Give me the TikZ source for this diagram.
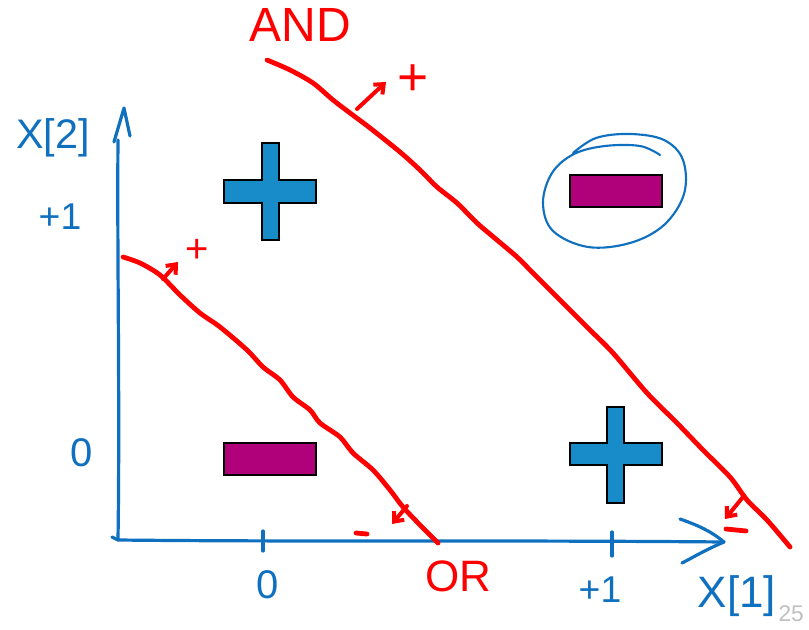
\documentclass[tikz,border=0pt]{standalone}
\usepackage{fontspec}
\setmainfont{Liberation Sans}
\usetikzlibrary{arrows.meta}
\definecolor{inkblue}{RGB}{16,112,192}
\definecolor{inkred}{RGB}{255,0,0}
\definecolor{plusfill}{RGB}{24,140,200}
\definecolor{minusfill}{RGB}{176,0,122}
\tikzset{
  redink/.style={draw=inkred,line width=3.6pt,line cap=round,line join=round},
  blueink/.style={draw=inkblue,line width=2.4pt,line cap=round,line join=round},
  thinblue/.style={draw=inkblue,line width=1.6pt,line cap=round},
  minusbox/.style={draw=black,line width=1.5pt,fill=minusfill},
  plusshape/.style={draw=black,line width=1.5pt,fill=plusfill,line join=miter},
  bluetxt/.style={text=inkblue,inner sep=0pt},
  redtxt/.style={text=inkred,inner sep=0pt},
  smallarrow/.style={redink,line width=3pt,-{Straight Barb[length=6pt,width=10pt,line width=3pt]}},
}
\begin{document}
\begin{tikzpicture}[x=0.75pt,y=-0.75pt]
\useasboundingbox (0,0) rectangle (809,630);

% axes
\coordinate (orig) at (118,540);
\coordinate (ytop) at (124,108);
\coordinate (xtip) at (724,542);
\draw[blueink] (orig) .. controls (120,400) and (117,250) .. (118,140);
\draw[blueink] (114,142) -- (ytop) -- (130,136);
\draw[blueink] (orig) .. controls (300,542) and (500,540) .. (xtip);
\draw[blueink] (680,519) .. controls (700,526) and (712,532) .. (xtip);
\draw[blueink] (xtip) .. controls (705,550) and (692,558) .. (682,563);
\draw[blueink] (112,537) -- (orig);
% ticks
\coordinate (t0a) at (263,531); \coordinate (t0b) at (263,551);
\coordinate (t1a) at (612,532); \coordinate (t1b) at (612,556);
\draw[blueink] (t0a) -- (t0b);
\draw[blueink] (t1a) -- (t1b);

% axis labels
\node[bluetxt,font=\fontsize{31}{31}\selectfont] (x2lab) at (53,138) {X[2]};
\node[bluetxt,font=\fontsize{28}{28}\selectfont] (yp1) at (60,217) {+1};
\node[bluetxt,font=\fontsize{30}{30}\selectfont] (y0) at (82,453) {0};
\node[bluetxt,font=\fontsize{30}{30}\selectfont] (x0) at (268,585) {0};
\node[bluetxt,font=\fontsize{28}{28}\selectfont] (xp1) at (600,590) {+1};
\node[bluetxt,font=\fontsize{33}{33}\selectfont] (x1lab) at (737,596) {X[1]};

% AND line
\draw[redink] plot[smooth,tension=0.5] coordinates {(267,60) (290,70) (313,83) (333,100) (350,113) (370,128) (400,152) (420,170) (437,187) (457,203) (477,223) (497,240) (517,257) (533,273) (553,293) (573,313) (590,330) (613,353) (647,393) (677,423) (703,450) (730,477) (747,500) (767,520) (790,547)};
\node[redtxt,font=\fontsize{36}{36}\selectfont] (andlab) at (300,25) {AND};
\coordinate (ap1) at (357,109); \coordinate (ap2) at (386,82);
\draw[smallarrow] (ap1) -- (ap2);
\node[redtxt,font=\fontsize{40}{40}\selectfont] (andplus) at (413,80) {+};
\coordinate (am1) at (743,497); \coordinate (am2) at (725,519);
\draw[smallarrow] (am1) -- (am2);
\coordinate (amd1) at (726,529); \coordinate (amd2) at (746,531);
\draw[redink] (amd1) -- (amd2);

% OR line
\draw[redink] plot[smooth,tension=0.5] coordinates {(123,257) (140,263) (160,275) (180,295) (200,313) (220,327) (247,350) (263,367) (280,380) (293,397) (310,410) (320,423) (340,437) (353,453) (373,470) (390,490) (403,507) (420,525) (438,543)};
\node[redtxt,font=\fontsize{33}{33}\selectfont] (orlab) at (458,576) {OR};
\coordinate (op1) at (163,279); \coordinate (op2) at (178,262);
\draw[smallarrow] (op1) -- (op2);
\node[redtxt,font=\fontsize{30}{30}\selectfont] (orplus) at (197,251) {+};
\coordinate (om1) at (407,506); \coordinate (om2) at (392,524);
\draw[smallarrow] (om1) -- (om2);
\coordinate (omd1) at (356,533); \coordinate (omd2) at (367,534);
\draw[redink] (omd1) -- (omd2);

% minus boxes
\node[minusbox,minimum width=69pt,minimum height=24pt,inner sep=0pt] (mTR) at (616,191) {};
\node[minusbox,minimum width=69pt,minimum height=24pt,inner sep=0pt] (mBL) at (270,459) {};

% plus shapes
\draw[plusshape] (262,143) -- (279,143) -- (279,180) -- (316,180) -- (316,203) -- (279,203) -- (279,240) -- (262,240) -- (262,203) -- (224,203) -- (224,180) -- (262,180) -- cycle;
\node[inner sep=0pt] (pTL) at (270,191) {};
\draw[plusshape] (607,407) -- (624,407) -- (624,443) -- (662,443) -- (662,465) -- (624,465) -- (624,503) -- (607,503) -- (607,465) -- (570,465) -- (570,443) -- (607,443) -- cycle;
\node[inner sep=0pt] (pBR) at (616,454) {};

% circle round the top-right minus
\draw[thinblue] plot[smooth,tension=0.6] coordinates {(660,155) (640,146) (605,146) (574,154) (552,173) (543,203) (553,231) (588,247) (630,243) (664,225) (684,194) (683,160) (664,140) (630,134) (596,138) (573,153)};

% page number
\node[text=black!25,inner sep=0pt,font=\fontsize{17}{17}\selectfont,anchor=east] (pg) at (804,614) {25};
\end{tikzpicture}
\end{document}
